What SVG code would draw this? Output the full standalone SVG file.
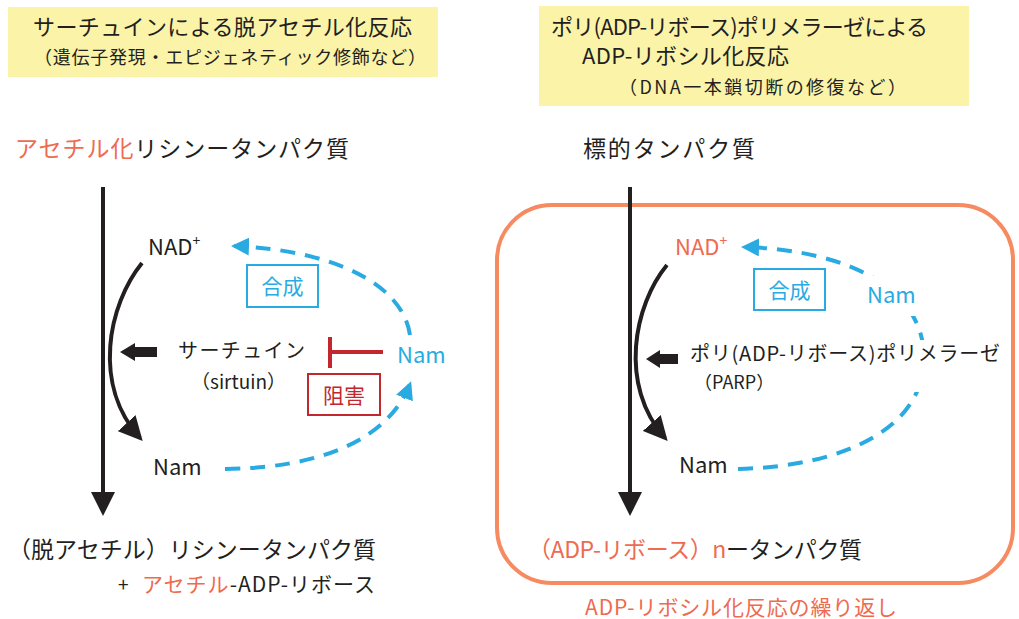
<svg xmlns="http://www.w3.org/2000/svg" width="1019" height="619" viewBox="0 0 1019 619">
<style>
text{font-family:"Noto Sans CJK JP","Noto Sans",sans-serif;fill:#231f20}
.r{fill:#ee6a50}
.b{fill:#29abe2}
.dr{fill:#c1272d}
.blk{fill:none;stroke:#231f20;stroke-width:4}
.blu{fill:none;stroke:#29abe2;stroke-width:4;stroke-dasharray:15 10}
.yel{fill:#fbf3a8}
</style>
<defs>
<marker id="ak" viewBox="0 0 12 12" refX="10" refY="6" markerWidth="6" markerHeight="6" markerUnits="strokeWidth" orient="auto"><path d="M0,0L12,6L0,12Z" fill="#231f20"/></marker>
<marker id="ab" viewBox="0 0 12 12" refX="10" refY="6" markerWidth="4.5" markerHeight="4.5" markerUnits="strokeWidth" orient="auto"><path d="M0,0L12,6L0,12Z" fill="#29abe2"/></marker>
</defs>
<rect width="1019" height="619" fill="#fff"/>
<g id="title-left">
<rect class="yel" x="8" y="7" width="430" height="70"/>
<text x="33" y="35" font-size="22" textLength="379">サーチュインによる脱アセチル化反応</text>
<text x="34" y="64" font-size="18" textLength="392">（遺伝子発現・エピジェネティック修飾など）</text>
</g>
<g id="title-right">
<rect class="yel" x="539" y="6" width="430" height="100"/>
<text x="551" y="35" font-size="22" textLength="377">ポリ(ADP-リボース)ポリメラーゼによる</text>
<text x="582" y="64" font-size="22" textLength="207">ADP-リボシル化反応</text>
<text x="619" y="94" font-size="18" textLength="287">（DNA一本鎖切断の修復など）</text>
</g>
<g id="repeat-box">
<rect x="497" y="205" width="516" height="378" rx="55" fill="none" stroke="#f68b62" stroke-width="4"/>
</g>
<g id="connectors">
<line class="blk" x1="103" y1="187" x2="103" y2="512" marker-end="url(#ak)"/>
<path class="blk" d="M142,263 C108,305 92,385 140,438" marker-end="url(#ak)"/>
<path class="blu" d="M410,335 C402,282 330,250 234,246" marker-end="url(#ab)"/>
<path class="blu" d="M225,469 C320,468 388,440 410,384" marker-end="url(#ab)"/>
<polygon points="120,352 135,343 135,347 157,347 157,357 135,357 135,361" fill="#231f20"/>
<line x1="330" y1="337" x2="330" y2="368" stroke="#c1272d" stroke-width="4"/>
<line x1="330" y1="352" x2="383" y2="352" stroke="#c1272d" stroke-width="4"/>
<line class="blk" x1="630" y1="187" x2="630" y2="512" marker-end="url(#ak)"/>
<path class="blk" d="M667,265 C634,305 618,385 665,438" marker-end="url(#ak)"/>
<path class="blu" d="M738,469 C850,466 926,425 924,355 C922,290 850,250 744,247" marker-end="url(#ab)"/>
<polygon points="646,359 660,350 660,354 678,354 678,364 660,364 660,368" fill="#231f20"/>
</g>
<g id="left-top">
<text x="15" y="157" font-size="23" textLength="334"><tspan class="r">アセチル化</tspan>リシンータンパク質</text>
</g>
<g id="left-nad"><text x="148" y="255" font-size="22">NAD<tspan font-size="14" dy="-9">+</tspan></text></g>
<g id="left-synth"><rect x="247" y="265" width="71" height="42" fill="#fff" stroke="#29abe2" stroke-width="2"/><text class="b" x="282.5" y="294" font-size="21" text-anchor="middle">合成</text></g>
<g id="sirtuin"><text x="178" y="358" font-size="20" textLength="127">サーチュイン</text><text x="191" y="389" font-size="19">（sirtuin）</text></g>
<g id="inhibit"><rect x="308" y="374" width="72" height="41" fill="#fff" stroke="#c1272d" stroke-width="2"/><text class="dr" x="344" y="403" font-size="21" text-anchor="middle">阻害</text></g>
<g id="left-nam-blue"><text class="b" x="397" y="363" font-size="22">Nam</text></g>
<g id="left-nam"><text x="153" y="475" font-size="22">Nam</text></g>
<g id="left-bottom">
<text x="8" y="558" font-size="23" textLength="368">（脱アセチル）リシンータンパク質</text>
<text x="118" y="592" font-size="19">+ </text>
<text x="142" y="592" font-size="21" textLength="233"><tspan class="r">アセチル</tspan>-ADP-リボース</text>
</g>
<g id="right-top"><text x="583" y="157" font-size="23" textLength="172">標的タンパク質</text></g>
<g id="right-nad"><text class="r" x="675" y="255" font-size="22">NAD<tspan font-size="14" dy="-9">+</tspan></text></g>
<g id="right-synth"><rect x="754" y="269" width="71" height="41" fill="#fff" stroke="#29abe2" stroke-width="2"/><text class="b" x="789.5" y="298" font-size="21" text-anchor="middle">合成</text></g>
<g id="right-nam-blue"><rect x="862" y="276" width="62" height="40" fill="#fff"/><text class="b" x="867" y="303" font-size="22">Nam</text></g>
<g id="parp"><rect x="686" y="340" width="320" height="52" fill="#fff"/><text x="690" y="361" font-size="20" textLength="310">ポリ(ADP-リボース)ポリメラーゼ</text><text x="694" y="389" font-size="18">（PARP）</text></g>
<g id="right-nam"><text x="679" y="473" font-size="22">Nam</text></g>
<g id="right-bottom"><text x="528" y="558" font-size="23" textLength="334"><tspan class="r">（ADP-リボース）n</tspan>ータンパク質</text></g>
<g id="repeat-label"><text class="r" x="585" y="615" font-size="21" textLength="312">ADP-リボシル化反応の繰り返し</text></g>
</svg>
